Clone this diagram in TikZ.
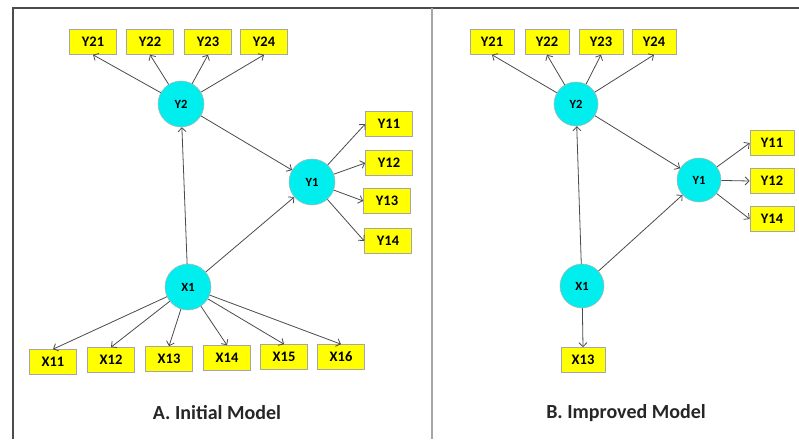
\documentclass[tikz,border=0pt]{standalone}
\usepackage{fontspec}
\setmainfont{Carlito}
\usetikzlibrary{arrows.meta}
\definecolor{boxy}{RGB}{255,255,0}
\definecolor{circc}{RGB}{0,238,238}
\definecolor{edgec}{RGB}{75,75,75}
\begin{document}
\begin{tikzpicture}[x=1pt,y=-1pt,
  ind/.style={draw=gray!70, fill=boxy, line width=0.6pt, minimum width=47pt, minimum height=25pt, inner sep=0pt, font=\fontsize{14.5}{14.5}\selectfont\bfseries},
  indb/.style={ind, minimum width=44pt},
  lat/.style={circle, draw=gray!60, fill=circc, line width=0.5pt, minimum size=46pt, inner sep=0pt, font=\fontsize{12.5}{12.5}\selectfont\bfseries},
  latb/.style={lat, minimum size=44pt},
  arr/.style={draw=edgec, line width=0.8pt, -{Straight Barb[length=4pt,width=8pt]}},
  ttl/.style={font=\fontsize{20}{20}\selectfont\bfseries, text=black!85}]
\useasboundingbox (0,0) rectangle (799,439);
\fill[white] (0,0) rectangle (799,439);
% frame
\draw[line width=2.2pt, draw=black!70] (799,8) -- (13,8) -- (13,439);
\draw[line width=1.4pt, draw=gray!70] (432,8) -- (432,439);

% ---------- Panel A ----------
\node[lat] (aY2) at (181,104) {Y2};
\node[lat] (aY1) at (312,182) {Y1};
\node[lat] (aX1) at (188,287) {X1};
\node[ind] (aY21) at (93,42) {Y21};
\node[ind] (aY22) at (150,42) {Y22};
\node[ind] (aY23) at (208,42) {Y23};
\node[ind] (aY24) at (264,42) {Y24};
\node[ind] (aY11) at (389,124) {Y11};
\node[ind] (aY12) at (389,163) {Y12};
\node[ind] (aY13) at (387,201) {Y13};
\node[ind] (aY14) at (388,241) {Y14};
\node[ind] (aX11) at (53,362) {X11};
\node[ind] (aX12) at (111,360) {X12};
\node[ind] (aX13) at (169,359) {X13};
\node[ind] (aX14) at (227,358) {X14};
\node[ind] (aX15) at (284,357) {X15};
\node[ind] (aX16) at (341,357) {X16};
\node[ttl] (aT) at (217,413) {A. Initial Model};

\foreach \t in {aY21,aY22,aY23,aY24} \draw[arr] (aY2) -- (\t.south);
\foreach \t in {aY11,aY12,aY13,aY14} \draw[arr] (aY1) -- (\t.west);
\foreach \t in {aX11,aX12,aX13,aX14,aX15,aX16} \draw[arr] (aX1) -- (\t.north);
\draw[arr] (aX1) -- (aY2);
\draw[arr] (aX1) -- (aY1);
\draw[arr] (aY2) -- (aY1);

% ---------- Panel B ----------
\node[latb] (bY2) at (576,104) {Y2};
\node[latb] (bY1) at (699,180) {Y1};
\node[latb] (bX1) at (582,286) {X1};
\node[indb] (bY21) at (492,42) {Y21};
\node[indb] (bY22) at (547,42) {Y22};
\node[indb] (bY23) at (601,42) {Y23};
\node[indb] (bY24) at (654,42) {Y24};
\node[indb] (bY11) at (772,143) {Y11};
\node[indb] (bY12) at (772,181) {Y12};
\node[indb] (bY14) at (772,219) {Y14};
\node[indb] (bX13) at (583,360) {X13};
\node[ttl] (bT) at (626,413) {B. Improved Model};

\foreach \t in {bY21,bY22,bY23,bY24} \draw[arr] (bY2) -- (\t.south);
\foreach \t in {bY11,bY12,bY14} \draw[arr] (bY1) -- (\t.west);
\draw[arr] (bX1) -- (bX13.north);
\draw[arr] (bX1) -- (bY2);
\draw[arr] (bX1) -- (bY1);
\draw[arr] (bY2) -- (bY1);
\end{tikzpicture}
\end{document}
